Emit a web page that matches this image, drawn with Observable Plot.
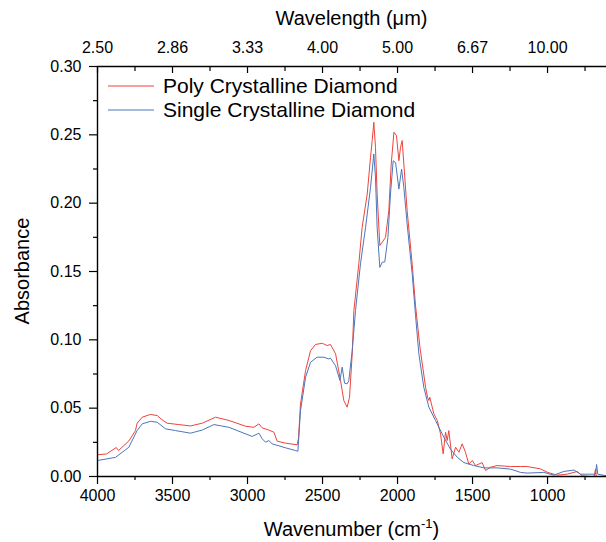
<!DOCTYPE html>
<html><head><meta charset="utf-8">
<script src="https://cdn.jsdelivr.net/npm/d3@7"></script>
<script src="https://cdn.jsdelivr.net/npm/@observablehq/plot@0.6"></script>
<style>body{margin:0;background:#fff} svg{display:block}</style>
</head><body><div id="chart"></div>
<script>
// ---- data ----
const seriesNames = ["Poly Crystalline Diamond", "Single Crystalline Diamond"];
const seriesColors = ["#ef433b", "#4d75ba"];

const polyWn = [4000,3940,3875,3860,3791,3747,3736,3702,3647,3602,3569,3536,3458,3380,3302,3213,3124,3013,2958,2924,2902,2858,2824,2802,2747,2669,2660,2647,2613,2580,2547,2502,2469,2447,2413,2380,2358,2336,2320,2302,2291,2258,2236,2202,2180,2169,2158,2147,2136,2118,2102,2080,2058,2042,2024,2007,1991,1980,1969,1958,1936,1902,1880,1850,1813,1800,1791,1785,1758,1735,1713,1696,1680,1669,1658,1636,1613,1591,1569,1547,1525,1502,1480,1436,1413,1380,1336,1247,1180,1136,1047,1002,936,869,802,769,713,690,680,675,607];
const polyAbs = [0.0159,0.0165,0.0212,0.019,0.026,0.0336,0.039,0.0434,0.0454,0.0446,0.0415,0.039,0.038,0.037,0.039,0.0434,0.041,0.0368,0.036,0.0385,0.0356,0.034,0.0324,0.0258,0.0244,0.0232,0.028,0.053,0.0775,0.092,0.0966,0.0975,0.0958,0.0966,0.0898,0.0702,0.0556,0.0507,0.058,0.0898,0.1214,0.1556,0.1823,0.2067,0.2336,0.2458,0.2592,0.2409,0.2067,0.169,0.1714,0.175,0.1946,0.2287,0.2519,0.2494,0.2311,0.2409,0.2458,0.2287,0.1946,0.155,0.125,0.094,0.0653,0.058,0.0556,0.058,0.0459,0.041,0.031,0.0166,0.0324,0.0263,0.0336,0.0129,0.0214,0.0177,0.0239,0.0177,0.009,0.0117,0.008,0.0102,0.0044,0.0068,0.008,0.0073,0.0073,0.0073,0.0056,0.0031,0.001,0.0017,0.0037,0.0005,0.0,0.0,0.0056,0.0,0.0];

const singleWn = [4000,3880,3791,3736,3702,3647,3602,3547,3480,3380,3302,3224,3124,2969,2924,2902,2880,2858,2836,2747,2680,2664,2647,2613,2580,2536,2491,2458,2447,2413,2384,2369,2353,2336,2325,2302,2280,2247,2213,2180,2158,2147,2136,2118,2102,2085,2064,2047,2029,2013,1991,1973,1958,1936,1902,1880,1858,1825,1791,1747,1691,1647,1602,1558,1491,1424,1336,1247,1180,1136,1025,958,891,824,780,725,680,673,665,607];
const singleAbs = [0.0117,0.014,0.0214,0.0336,0.0385,0.0404,0.0397,0.0349,0.0336,0.0317,0.034,0.038,0.036,0.0293,0.0317,0.0276,0.0251,0.0263,0.0239,0.021,0.019,0.0185,0.048,0.0726,0.0836,0.0873,0.0873,0.086,0.0866,0.081,0.0702,0.08,0.0683,0.0678,0.07,0.0922,0.1214,0.1556,0.1823,0.2116,0.236,0.219,0.1823,0.153,0.1568,0.157,0.175,0.2067,0.231,0.2297,0.2103,0.225,0.2116,0.1848,0.148,0.118,0.0898,0.0653,0.0507,0.041,0.0287,0.02,0.0141,0.0102,0.008,0.0063,0.0063,0.0054,0.003,0.0025,0.003,0.001,0.0037,0.0047,0.0017,0.0017,0.0017,0.0088,0.0017,0.0005];

const majorWn = [4000, 3500, 3000, 2500, 2000, 1500, 1000];
const minorWn = [3750, 3250, 2750, 2250, 1750, 1250, 750];
const wavelengthLabels = ["2.50", "2.86", "3.33", "4.00", "5.00", "6.67", "10.00"];
const yMajor = [0, 0.05, 0.10, 0.15, 0.20, 0.25, 0.30];
const yMinor = [0.025, 0.075, 0.125, 0.175, 0.225, 0.275];
const xTitle = "Wavenumber (cm";
const xTitleSup = "-1";
const topTitle = "Wavelength (\u03bcm)";
const yTitle = "Absorbance";

// ---- build ----
const rows = [
  ...polyWn.map((w, i) => ({wn: w, a: polyAbs[i], s: seriesNames[0]})),
  ...singleWn.map((w, i) => ({wn: w, a: singleAbs[i], s: seriesNames[1]}))
];
const font = "'Liberation Sans', Arial, sans-serif";
const ax = {stroke: "#000", strokeWidth: 1.4};

const chart = Plot.plot({
  width: 606, height: 542,
  marginLeft: 97, marginRight: 0, marginTop: 66, marginBottom: 66,
  style: {fontFamily: font, fontSize: "16px", color: "#000", background: "#fff"},
  x: {domain: [4000, 607]},
  y: {domain: [0, 0.3]},
  color: {domain: seriesNames, range: seriesColors},
  marks: [
    Plot.line(rows, {x: "wn", y: "a", z: "s", stroke: "s", strokeWidth: 1, clip: true}),
    Plot.ruleX([4000], ax),
    Plot.ruleY([0], ax),
    Plot.ruleY([0.3], ax),
    Plot.axisX({anchor: "bottom", ticks: majorWn, tickSize: 8, tickPadding: 5, tickFormat: d => String(d), label: null, strokeWidth: 1.2}),
    Plot.axisX({anchor: "bottom", ticks: minorWn, tickSize: 4, fill: null, label: null, strokeWidth: 1.2}),
    Plot.axisX({anchor: "top", ticks: majorWn, tickSize: -6, fill: null, label: null, strokeWidth: 1.2}),
    Plot.axisX({anchor: "top", ticks: minorWn, tickSize: -4, fill: null, label: null, strokeWidth: 1.2}),
    Plot.axisX({anchor: "top", ticks: majorWn, tickSize: 0, tickPadding: 14, tickFormat: d => wavelengthLabels[majorWn.indexOf(d)], label: null}),
    Plot.axisY({anchor: "left", ticks: yMajor, tickSize: 8, tickPadding: 8, tickFormat: d3.format(".2f"), label: null, strokeWidth: 1.2}),
    Plot.axisY({anchor: "left", ticks: yMinor, tickSize: 4, fill: null, label: null, strokeWidth: 1.2})
  ]
});

const svg = d3.select(chart);
// axis titles
const xt = svg.append("text").attr("x", 351.5).attr("y", 536).attr("text-anchor", "middle")
  .attr("font-family", font).attr("font-size", 20).attr("fill", "#000").text(xTitle);
xt.append("tspan").attr("dy", -8).attr("font-size", 13).text(xTitleSup);
xt.append("tspan").attr("dy", 8).text(")");
svg.append("text").attr("x", 351.5).attr("y", 25).attr("text-anchor", "middle")
  .attr("font-family", font).attr("font-size", 20).attr("fill", "#000").text(topTitle);
svg.append("text").attr("transform", "translate(29,271) rotate(-90)").attr("text-anchor", "middle")
  .attr("font-family", font).attr("font-size", 20).attr("fill", "#000").text(yTitle);
// legend
seriesNames.forEach((name, i) => {
  const y = 86 + i * 24;
  svg.append("line").attr("x1", 108).attr("x2", 154).attr("y1", y).attr("y2", y)
    .attr("stroke", seriesColors[i]).attr("stroke-width", 1);
  svg.append("text").attr("x", 163).attr("y", y + 7).attr("text-anchor", "start")
    .attr("font-family", font).attr("font-size", 21).attr("fill", "#000").text(name);
});

document.getElementById("chart").appendChild(chart);
</script>
</body></html>
